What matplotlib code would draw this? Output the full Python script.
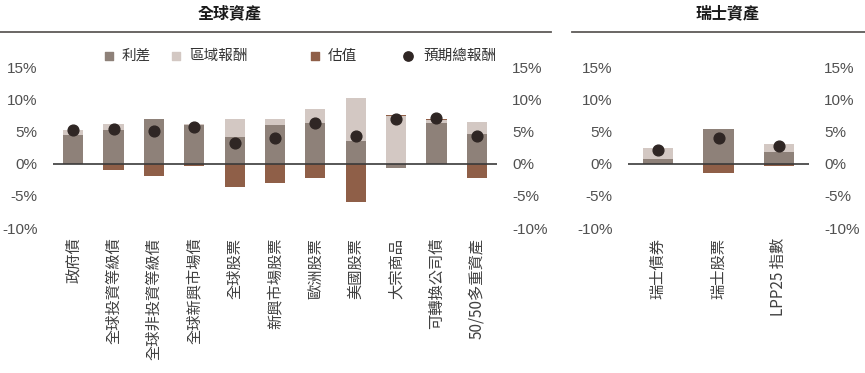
import matplotlib
matplotlib.use('Agg')
import matplotlib.pyplot as plt
from matplotlib.lines import Line2D

plt.rcParams['font.family'] = ['Noto Sans CJK TC', 'DejaVu Sans']

# 全球資產
global_cats = ['政府債', '全球投資等級債', '全球非投資等級債', '全球新興市場債', '全球股票',
               '新興市場股票', '歐洲股票', '美國股票', '大宗商品', '可轉換公司債', '50/50多重資產']
global_carry = [4.5, 5.3, 7.0, 6.05, 4.25, 6.05, 6.35, 3.5, -0.6, 6.35, 4.7]      # 利差
global_region = [0.8, 0.9, 0.0, 0.1, 2.75, 0.95, 2.15, 6.8, 7.5, 0.5, 1.85]      # 區域報酬
global_valuation = [0.0, -0.9, -1.9, -0.3, -3.6, -2.95, -2.2, -5.9, 0.15, 0.2, -2.2]  # 估值
global_total = [5.35, 5.4, 5.15, 5.8, 3.25, 4.0, 6.4, 4.3, 7.0, 7.1, 4.3]         # 預期總報酬

# 瑞士資產
swiss_cats = ['瑞士債券', '瑞士股票', 'LPP25 指數']
swiss_carry = [0.7, 5.5, 1.9]
swiss_region = [1.7, 0.0, 1.2]
swiss_valuation = [0.0, -1.5, -0.4]
swiss_total = [2.2, 4.0, 2.75]

y_ticks = [-10, -5, 0, 5, 10, 15]
y_tick_labels = ['-10%', '-5%', '0%', '5%', '10%', '15%']

series_names = ['利差', '區域報酬', '估值']
colors = ['#8e8179', '#d3c8c3', '#8f5f48']
dot_color = '#2f2624'

W, H = 865, 373
fig = plt.figure(figsize=(W / 100, H / 100), dpi=100)


def draw_panel(rect, cats, series, total):
    ax = fig.add_axes(rect)
    x = list(range(len(cats)))
    pos = [0.0] * len(cats)
    neg = [0.0] * len(cats)
    for vals, c in zip(series, colors):
        bottoms = []
        for i, v in enumerate(vals):
            if v >= 0:
                bottoms.append(pos[i])
                pos[i] += v
            else:
                bottoms.append(neg[i])
                neg[i] += v
        ax.bar(x, vals, bottom=bottoms, width=0.5, color=c, zorder=2)
    ax.scatter(x, total, s=60, color=dot_color, zorder=4)
    ax.axhline(0, color='#3a3a3a', lw=1.2, zorder=3)
    ax.set_xlim(-0.5, len(cats) - 0.5)
    ax.set_ylim(-10, 15)
    ax.set_yticks(y_ticks)
    ax.set_yticklabels(y_tick_labels, family='Liberation Sans', fontsize=11, color='#505050')
    ax.set_xticks(x)
    ax.set_xticklabels(cats, rotation=90, fontsize=11, color='#404040', va='top', ha='center')
    ax.tick_params(axis='y', length=0, pad=11, labelleft=True, labelright=True)
    ax.tick_params(axis='x', length=0, pad=7)
    for s in ax.spines.values():
        s.set_visible(False)
    ax.patch.set_alpha(0)
    return ax


bottom = 1 - 228 / H
height = 160.3 / H
draw_panel([53 / W, bottom, 444 / W, height], global_cats,
           [global_carry, global_region, global_valuation], global_total)
draw_panel([628 / W, bottom, 181 / W, height], swiss_cats,
           [swiss_carry, swiss_region, swiss_valuation], swiss_total)

# 標題、分隔線、圖例
ov = fig.add_axes([0, 0, 1, 1])
ov.set_xlim(0, W)
ov.set_ylim(H, 0)
ov.axis('off')
ov.patch.set_alpha(0)
ov.text(230, 13, '全球資產', fontsize=11.5, fontweight='bold', ha='center', va='center', color='#1a1a1a')
ov.text(727, 13, '瑞士資產', fontsize=11.5, fontweight='bold', ha='center', va='center', color='#1a1a1a')
ov.add_line(Line2D([0, 551], [31.7, 31.7], color='#5e5a58', lw=1.3))
ov.add_line(Line2D([572, 865], [31.7, 31.7], color='#5e5a58', lw=1.3))

legend_x = [109, 176, 315, 408]
for lx, name, c in zip(legend_x[:3], series_names, colors):
    ov.scatter([lx], [56], marker='s', s=32, color=c)
    ov.text(lx + 13, 56, name, fontsize=10.5, va='center', ha='left', color='#333333')
ov.scatter([legend_x[3]], [56], marker='o', s=45, color=dot_color)
ov.text(legend_x[3] + 15, 56, '預期總報酬', fontsize=10.5, va='center', ha='left', color='#333333')

fig.savefig('out.png', dpi=100)
